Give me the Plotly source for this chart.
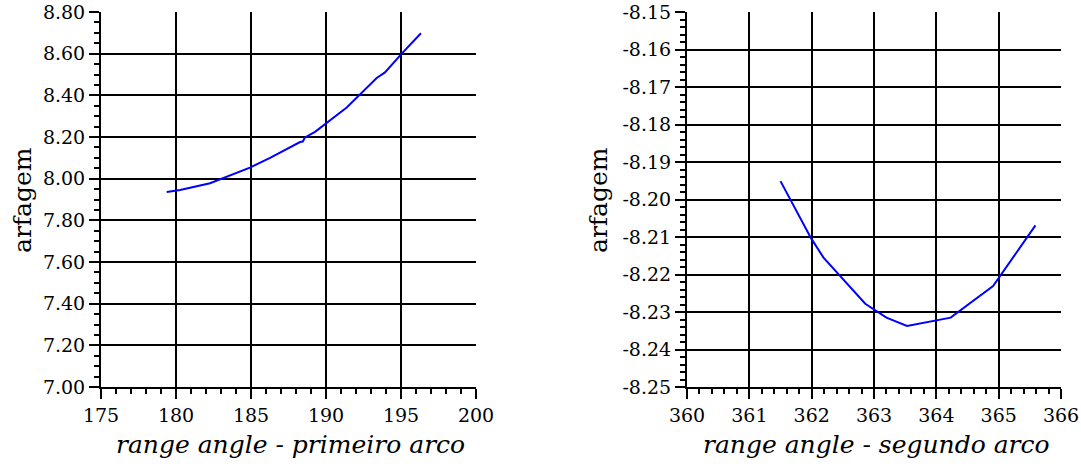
import plotly.graph_objects as go

# Left panel: primeiro arco
x1 = [179.38, 180.27, 182.27, 184.93, 186.27, 188.27, 188.45, 188.6, 189.27, 190.6, 191.38, 193.38, 193.93, 195.05, 196.33]
y1 = [7.936, 7.946, 7.978, 8.053, 8.100, 8.176, 8.178, 8.198, 8.225, 8.300, 8.342, 8.483, 8.510, 8.600, 8.698]

# Right panel: segundo arco
x2 = [361.50, 361.99, 362.19, 362.43, 362.86, 363.20, 363.53, 364.23, 364.91, 365.59]
y2 = [-8.1951, -8.2103, -8.2155, -8.2200, -8.2278, -8.2315, -8.2337, -8.2315, -8.2231, -8.2069]

x1_ticks = [175, 180, 185, 190, 195, 200]
y1_ticks = [7.00, 7.20, 7.40, 7.60, 7.80, 8.00, 8.20, 8.40, 8.60, 8.80]
x2_ticks = [360, 361, 362, 363, 364, 365, 366]
y2_ticks = [-8.25, -8.24, -8.23, -8.22, -8.21, -8.20, -8.19, -8.18, -8.17, -8.16, -8.15]

xtitle1 = "range angle - primeiro arco"
xtitle2 = "range angle - segundo arco"
ytitle = "arfagem"

FONT = "DejaVu Serif"

fig = go.Figure()
fig.add_trace(go.Scatter(x=x1, y=y1, mode="lines", line=dict(color="#0000ff", width=2),
                         xaxis="x", yaxis="y", showlegend=False))
fig.add_trace(go.Scatter(x=x2, y=y2, mode="lines", line=dict(color="#0000ff", width=2),
                         xaxis="x2", yaxis="y2", showlegend=False))

W, H = 1081, 472

def ax_common():
    return dict(showline=True, linecolor="black", linewidth=2, mirror=False,
                showgrid=True, gridcolor="black", gridwidth=2,
                ticks="outside", ticklen=10, tickwidth=2, tickcolor="black",
                tickfont=dict(family=FONT, size=19, color="black"),
                zeroline=False, automargin=False)

xd1 = [101 / W, 476 / W]
xd2 = [687 / W, 1061 / W]
yd = [1 - 387 / H, 1 - 12 / H]

title_font = dict(family=FONT, size=25, color="black")

fig.update_layout(
    width=W, height=H,
    margin=dict(l=0, r=0, t=0, b=0),
    paper_bgcolor="white", plot_bgcolor="white",
    font=dict(family=FONT),
    xaxis=dict(**ax_common(), domain=xd1, range=[175, 200], tickvals=x1_ticks,
               ticktext=[str(v) for v in x1_ticks], anchor="y",
               minor=dict(dtick=1, ticks="outside", ticklen=5, tickwidth=2, tickcolor="black", showgrid=False)),
    yaxis=dict(**ax_common(), domain=yd, range=[7.0, 8.8], tickvals=y1_ticks,
               ticktext=[f"{v:.2f}" for v in y1_ticks], anchor="x",
               minor=dict(dtick=0.05, ticks="outside", ticklen=5, tickwidth=2, tickcolor="black", showgrid=False)),
    xaxis2=dict(**ax_common(), domain=xd2, range=[360, 366], tickvals=x2_ticks,
                ticktext=[str(v) for v in x2_ticks], anchor="y2",
                minor=dict(dtick=0.2, ticks="outside", ticklen=5, tickwidth=2, tickcolor="black", showgrid=False)),
    yaxis2=dict(**ax_common(), domain=yd, range=[-8.25, -8.15], tickvals=y2_ticks,
                ticktext=[f"{v:.2f}" for v in y2_ticks], anchor="x2",
                minor=dict(dtick=0.002, ticks="outside", ticklen=5, tickwidth=2, tickcolor="black", showgrid=False)),
    annotations=[
        dict(text="<i>" + xtitle1 + "</i>", x=290 / W, y=1 - 444 / H, xref="paper", yref="paper",
             showarrow=False, font=title_font, xanchor="center", yanchor="middle"),
        dict(text="<i>" + xtitle2 + "</i>", x=876 / W, y=1 - 444 / H, xref="paper", yref="paper",
             showarrow=False, font=title_font, xanchor="center", yanchor="middle"),
        dict(text=ytitle, x=22 / W, y=1 - 200 / H, xref="paper", yref="paper", textangle=-90,
             showarrow=False, font=title_font, xanchor="center", yanchor="middle"),
        dict(text=ytitle, x=598 / W, y=1 - 200 / H, xref="paper", yref="paper", textangle=-90,
             showarrow=False, font=title_font, xanchor="center", yanchor="middle"),
    ],
)

fig.write_html("out.html")
